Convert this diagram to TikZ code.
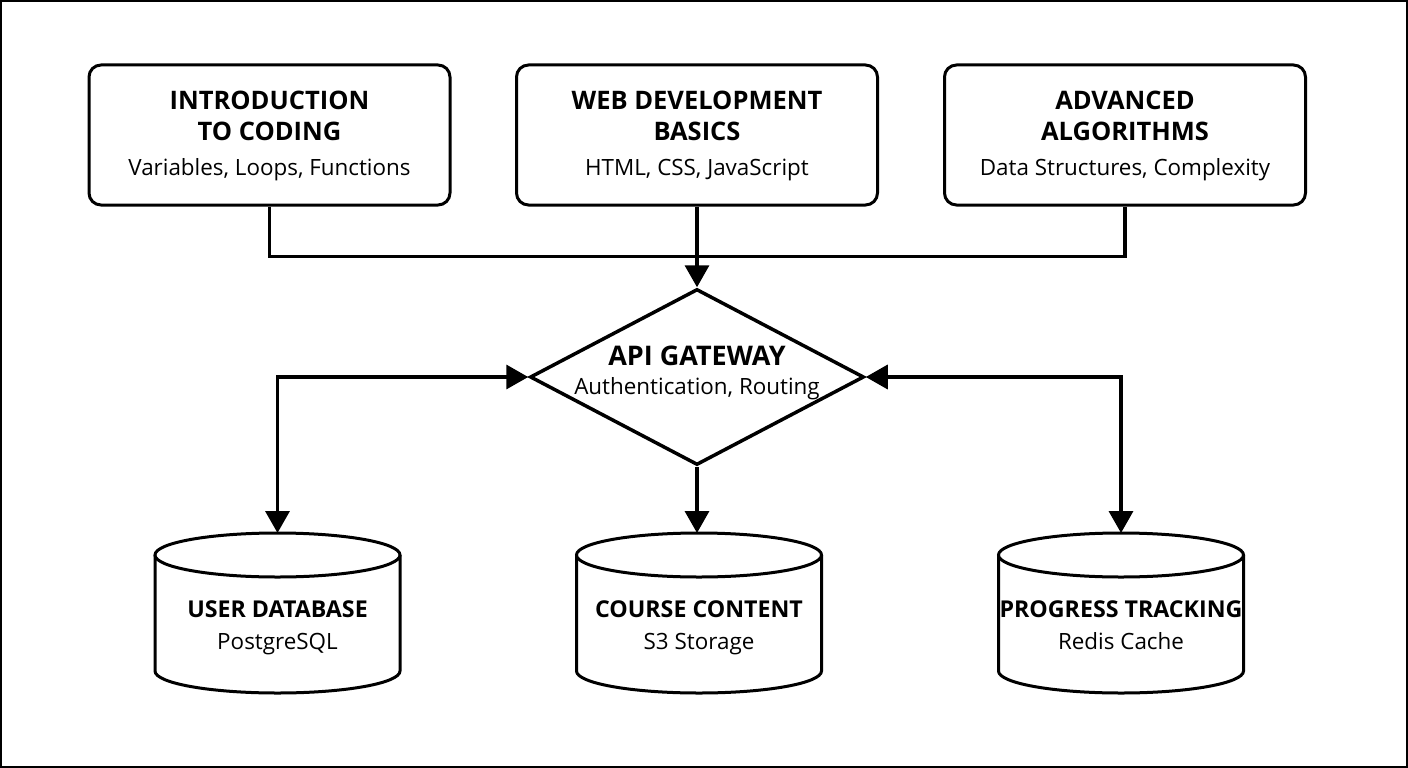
\documentclass[tikz,border=0pt]{standalone}
\usepackage{fontspec}
\setmainfont{Open Sans}
\usetikzlibrary{arrows.meta,shapes.geometric}
\tikzset{
  box/.style={draw, line width=3pt, rounded corners=12pt, minimum width=361pt, minimum height=140pt, inner sep=0pt},
  ttl/.style={font=\fontsize{25.5}{30}\selectfont\bfseries, inner sep=0pt, anchor=base},
  ttlc/.style={font=\fontsize{23.2}{28}\selectfont\bfseries, inner sep=0pt, anchor=base},
  ttlg/.style={font=\fontsize{27}{30}\selectfont\bfseries, inner sep=0pt, anchor=base},
  sub/.style={font=\fontsize{22.4}{26}\selectfont, inner sep=0pt, anchor=base},
  conn/.style={line width=3.5pt},
  arr/.style={conn, -{Triangle[length=22pt,width=24pt]}},
  arrb/.style={conn, {Triangle[length=22pt,width=24pt]}-{Triangle[length=22pt,width=24pt]}},
  cyl/.style={line width=3pt, fill=white}
}
\newcommand\dbcyl[4]{%
  \coordinate (#1top) at (#2,-533);
  \draw[cyl] ({#2-122.5},-555) -- ({#2-122.5},-671) arc[start angle=180,end angle=360,x radius=122.5pt,y radius=22pt] -- ({#2+122.5},-555);
  \draw[cyl] (#2,-555) ellipse [x radius=122.5pt, y radius=22pt];
  \node[ttlc] (#1t) at (#2,-617) {#3};
  \node[sub] (#1s) at (#2,-649) {#4};
}
\begin{document}
\begin{tikzpicture}[x=1pt,y=1pt]
\useasboundingbox (0,0) rectangle (1408,-768);
\fill[white] (0,0) rectangle (1408,-768);
\draw[line width=2.5pt] (1,-1) rectangle (1407,-767);

% top boxes
\node[box] (b1) at (269.5,-135) {};
\node[box] (b2) at (697,-135) {};
\node[box] (b3) at (1125,-135) {};
\node[ttl] (b1t) at (269.5,-110) {INTRODUCTION};
\node[ttl] (b1u) at (269.5,-140) {TO CODING};
\node[sub] (b1s) at (269.5,-175) {Variables, Loops, Functions};
\node[ttl] (b2t) at (697,-110) {WEB DEVELOPMENT};
\node[ttl] (b2u) at (697,-140) {BASICS};
\node[sub] (b2s) at (697,-175) {HTML, CSS, JavaScript};
\node[ttl] (b3t) at (1125,-110) {ADVANCED};
\node[ttl] (b3u) at (1125,-140) {ALGORITHMS};
\node[sub] (b3s) at (1125,-175) {Data Structures, Complexity};

% gateway
\node[diamond, draw, line width=3.5pt, minimum width=334pt, minimum height=176pt, inner sep=0pt, aspect=1.9] (gw) at (697,-377) {};
\node[ttlg] (gwt) at (697,-365.5) {API GATEWAY};
\node[sub] (gws) at (697,-394) {Authentication, Routing};

% databases
\dbcyl{c1}{277.5}{USER DATABASE}{PostgreSQL}
\dbcyl{c2}{699}{COURSE CONTENT}{S3 Storage}
\dbcyl{c3}{1121}{PROGRESS TRACKING}{Redis Cache}

% connectors
\draw[conn] (b1.south) -- ++(0,-50) -| (b3.south);
\draw[arr] (b2.south) -- (gw.north);
\draw[arrb] (gw.west) -| (c1top);
\draw[arrb] (gw.east) -| (c3top);
\draw[arr] (gw.south) -- (gw.south |- c2top);
\end{tikzpicture}
\end{document}
